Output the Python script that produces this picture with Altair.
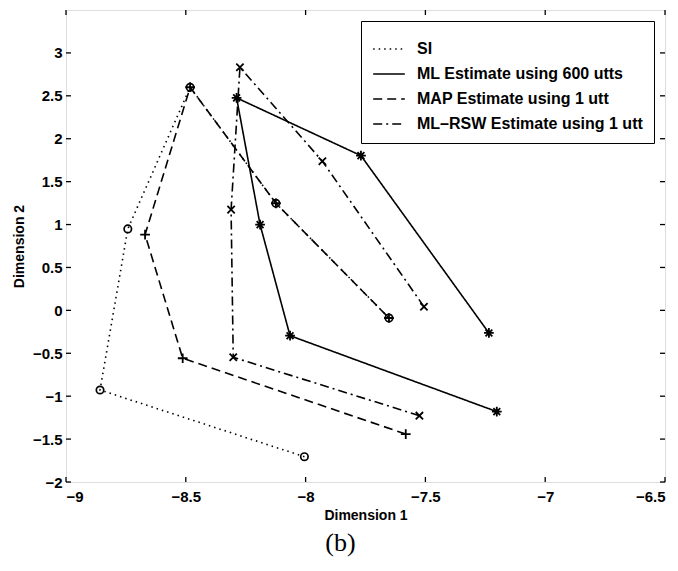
import altair as alt
import pandas as pd

series_names = ["SI", "ML Estimate using 600 utts", "MAP Estimate using 1 utt", "ML–RSW Estimate using 1 utt"]

si_x = [-8.005, -8.858, -8.742, -8.482, -8.124, -7.652]
si_y = [-1.705, -0.928, 0.949, 2.600, 1.248, -0.089]
ml_x = [-7.202, -8.065, -8.190, -8.288, -7.769, -7.235]
ml_y = [-1.180, -0.295, 0.999, 2.476, 1.803, -0.263]
map_x = [-7.582, -8.513, -8.670, -8.482, -8.124, -7.652]
map_y = [-1.441, -0.558, 0.882, 2.600, 1.248, -0.089]
rsw_x = [-7.525, -8.302, -8.311, -8.274, -7.930, -7.506]
rsw_y = [-1.227, -0.547, 1.174, 2.833, 1.738, 0.043]

x_ticks = [-9, -8.5, -8, -7.5, -7, -6.5]
y_ticks = [-2, -1.5, -1, -0.5, 0, 0.5, 1, 1.5, 2, 2.5, 3]

rows = []
for name, xs, ys in zip(series_names, [si_x, ml_x, map_x, rsw_x], [si_y, ml_y, map_y, rsw_y]):
    for i, (a, b) in enumerate(zip(xs, ys)):
        rows.append({"series": name, "idx": i, "x": a, "y": b})
df = pd.DataFrame(rows)

W, H = 599, 472
FONT = "Liberation Sans"

xs = alt.Scale(domain=[-9, -6.5], nice=False, zero=False)
ys = alt.Scale(domain=[-2, 3.5], nice=False, zero=False)

xaxis = alt.Axis(values=x_ticks, format="~g", title="Dimension 1", grid=False, domain=False,
                 ticks=False, labelPadding=7, titlePadding=4, labelFont=FONT, labelFontSize=15,
                 labelFontWeight="bold", titleFont=FONT, titleFontSize=14, titleFontWeight="bold",
                 labelColor="black", titleColor="black")
yaxis = alt.Axis(values=y_ticks, format="~g", title="Dimension 2", grid=False, domain=False,
                 ticks=False, labelPadding=4, titlePadding=6, labelFont=FONT, labelFontSize=15,
                 labelFontWeight="bold", titleFont=FONT, titleFontSize=14, titleFontWeight="bold",
                 labelColor="black", titleColor="black")

base = alt.Chart(df)

lines = base.mark_line(color="black", strokeWidth=1.6).encode(
    x=alt.X("x:Q", scale=xs, axis=xaxis),
    y=alt.Y("y:Q", scale=ys, axis=yaxis),
    strokeDash=alt.StrokeDash(
        "series:N",
        scale=alt.Scale(domain=series_names, range=[[1.5, 4], [1, 0], [9, 5], [9, 4, 2, 4]]),
        legend=alt.Legend(title=None, orient="top-right", offset=11, symbolType="stroke",
                          symbolStrokeColor="black", symbolStrokeWidth=1.6, symbolSize=1000,
                          labelFont=FONT, labelFontSize=16, labelFontWeight="bold",
                          labelColor="black", labelOffset=11, rowPadding=-5, labelLimit=400,
                          strokeColor="black", fillColor="white", padding=11),
    ),
    detail="series:N",
    order=alt.Order("idx:Q"),
)

circ = base.transform_filter(alt.datum.series == "SI").mark_point(
    shape="circle", filled=False, color="black", strokeWidth=1.7, size=55, opacity=1
).encode(x=alt.X("x:Q", scale=xs), y=alt.Y("y:Q", scale=ys))

shapes = base.transform_filter(alt.datum.series != "SI").mark_point(
    filled=False, color="black", strokeWidth=1.8, size=95, opacity=1
).encode(
    x=alt.X("x:Q", scale=xs),
    y=alt.Y("y:Q", scale=ys),
    shape=alt.Shape(
        "series:N",
        scale=alt.Scale(
            domain=series_names[1:],
            range=[
                "M-1,0L1,0M0,-1L0,1M-0.7,-0.7L0.7,0.7M-0.7,0.7L0.7,-0.7",
                "M-1,0L1,0M0,-1L0,1",
                "M-0.75,-0.75L0.75,0.75M-0.75,0.75L0.75,-0.75",
            ],
        ),
        legend=None,
    ),
)

xt = pd.DataFrame({"v": x_ticks})
yt = pd.DataFrame({"v": y_ticks})
tb = alt.Chart(xt).mark_rule(color="black", strokeWidth=1.3).encode(
    x=alt.X("v:Q", scale=xs), y=alt.value(H), y2=alt.value(H - 5))
tt = alt.Chart(xt).mark_rule(color="black", strokeWidth=1.3).encode(
    x=alt.X("v:Q", scale=xs), y=alt.value(0), y2=alt.value(5))
tl = alt.Chart(yt).mark_rule(color="black", strokeWidth=1.3).encode(
    y=alt.Y("v:Q", scale=ys), x=alt.value(0), x2=alt.value(5))
tr = alt.Chart(yt).mark_rule(color="black", strokeWidth=1.3).encode(
    y=alt.Y("v:Q", scale=ys), x=alt.value(W), x2=alt.value(W - 5))

chart = alt.layer(tb, tt, tl, tr, lines, circ, shapes).properties(
    width=W, height=H,
    padding={"left": 58, "top": 2, "right": 5, "bottom": 75},
    autosize=alt.AutoSizeParams(type="none"),
    title=alt.TitleParams("(b)", orient="bottom", font="Liberation Serif", fontSize=26,
                          fontWeight="normal", color="black", anchor="middle", dx=-25, offset=8),
).configure_view(stroke="black", strokeWidth=1.6).configure(background="white")

chart.save("out.html", embed_options={"renderer": "svg", "actions": False})
